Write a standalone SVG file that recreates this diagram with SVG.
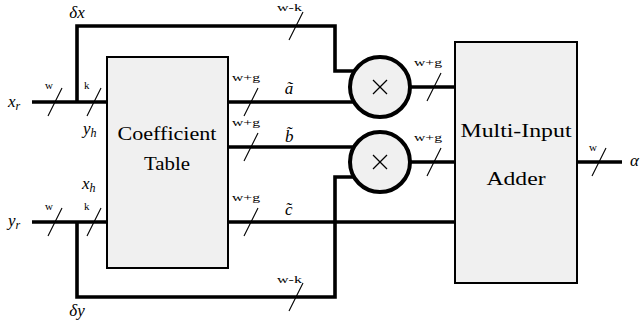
<svg xmlns="http://www.w3.org/2000/svg" width="643" height="333" viewBox="0 0 643 333">
<style>
.w{fill:none;stroke:#000;stroke-width:3.6;stroke-linejoin:miter;stroke-linecap:butt}
.s{stroke:#000;stroke-width:1.1}
.box{fill:#f0f0f0;stroke:#000;stroke-width:2}
.cir{fill:#f0f0f0;stroke:#000;stroke-width:4}
.x{stroke:#000;stroke-width:1.3}
text{font-family:'Liberation Serif','Times New Roman',serif;fill:#000}
.m{font-style:italic;font-size:17px}
.l{font-size:11px}
.big{font-size:19.5px;text-anchor:middle}
</style>
<rect width="643" height="333" fill="#fff"/>
<g id="connectors">
<path class="w" d="M32,102 H107"/>
<path class="w" d="M77,102 V26 H335 V71 H360"/>
<path class="w" d="M32,222 H107"/>
<path class="w" d="M77,222 V297 H335 V177 H360"/>
<path class="w" d="M228,102 H360"/>
<path class="w" d="M228,147 H360"/>
<path class="w" d="M228,222 H455"/>
<path class="w" d="M400,87 H455"/>
<path class="w" d="M400,162 H455"/>
<path class="w" d="M577,162 H622"/>
<g id="slashes">
<line class="s" x1="48" y1="116" x2="62" y2="88"/>
<line class="s" x1="87" y1="116" x2="101" y2="88"/>
<line class="s" x1="48" y1="236" x2="62" y2="208"/>
<line class="s" x1="87" y1="236" x2="101" y2="208"/>
<line class="s" x1="289" y1="40" x2="303" y2="12"/>
<line class="s" x1="244" y1="116" x2="258" y2="88"/>
<line class="s" x1="244" y1="161" x2="258" y2="133"/>
<line class="s" x1="244" y1="236" x2="258" y2="208"/>
<line class="s" x1="427" y1="101" x2="441" y2="73"/>
<line class="s" x1="427" y1="176" x2="441" y2="148"/>
<line class="s" x1="289" y1="311" x2="303" y2="283"/>
<line class="s" x1="592" y1="176" x2="606" y2="148"/>
</g>
<g id="widths">
<text class="l" x="45" y="89">w</text>
<text class="l" x="84" y="89">k</text>
<text class="l" x="45" y="210">w</text>
<text class="l" x="84" y="210">k</text>
<text class="l" x="277" y="11" textLength="25" lengthAdjust="spacingAndGlyphs">w-k</text>
<text class="l" x="277" y="283" textLength="25" lengthAdjust="spacingAndGlyphs">w-k</text>
<text class="l" x="232" y="81" textLength="28" lengthAdjust="spacingAndGlyphs">w+g</text>
<text class="l" x="232" y="126" textLength="28" lengthAdjust="spacingAndGlyphs">w+g</text>
<text class="l" x="232" y="201" textLength="28" lengthAdjust="spacingAndGlyphs">w+g</text>
<text class="l" x="414" y="66" textLength="28" lengthAdjust="spacingAndGlyphs">w+g</text>
<text class="l" x="414" y="141" textLength="28" lengthAdjust="spacingAndGlyphs">w+g</text>
<text class="l" x="589" y="151">w</text>
</g>
<g id="signals">
<text class="m" x="77" y="18" text-anchor="middle">δx</text>
<text class="m" x="77" y="316" text-anchor="middle">δy</text>
<text class="m" x="8" y="107">x<tspan font-size="12" dy="3">r</tspan></text>
<text class="m" x="8" y="226">y<tspan font-size="12" dy="3">r</tspan></text>
<text class="m" x="83" y="134">y<tspan font-size="12" dy="3">h</tspan></text>
<text class="m" x="82" y="189">x<tspan font-size="12" dy="3">h</tspan></text>
<text class="m" x="289" y="94" text-anchor="middle">ã</text>
<text class="m" x="285" y="142">b<tspan dx="-7.5" dy="-4">˜</tspan></text>
<text class="m" x="285" y="215">c<tspan dx="-7" dy="-1">˜</tspan></text>
<text class="m" x="630" y="166">α</text>
</g>
</g>
<g id="coef">
<rect class="box" x="107" y="57" width="121" height="211"/>
<text class="big" x="167" y="140" textLength="99" lengthAdjust="spacingAndGlyphs">Coefficient</text>
<text class="big" x="167" y="170" textLength="46" lengthAdjust="spacingAndGlyphs">Table</text>
</g>
<g id="mul1">
<circle class="cir" cx="380" cy="87" r="30"/>
<line class="x" x1="373" y1="80" x2="387" y2="94"/>
<line class="x" x1="387" y1="80" x2="373" y2="94"/>
</g>
<g id="mul2">
<circle class="cir" cx="380" cy="162" r="30"/>
<line class="x" x1="373" y1="155" x2="387" y2="169"/>
<line class="x" x1="387" y1="155" x2="373" y2="169"/>
</g>
<g id="adder">
<rect class="box" x="455" y="42" width="122" height="241"/>
<text class="big" x="516" y="137" textLength="111" lengthAdjust="spacingAndGlyphs">Multi-Input</text>
<text class="big" x="516" y="185" textLength="59" lengthAdjust="spacingAndGlyphs">Adder</text>
</g>
</svg>
